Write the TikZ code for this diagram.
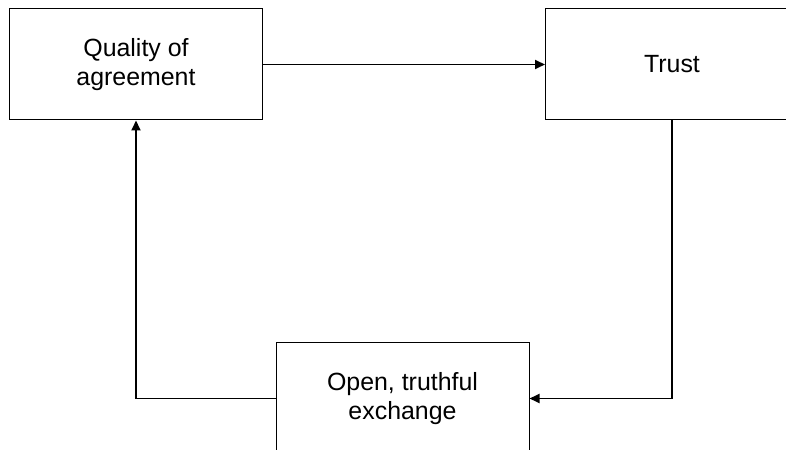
\documentclass[tikz,border=0pt]{standalone}
\usepackage{fontspec}
\setmainfont{Liberation Sans}
\usetikzlibrary{arrows.meta}
\newcommand{\boxfont}{\fontsize{25}{29}\selectfont}

\begin{document}
\begin{tikzpicture}[x=1bp,y=-1bp,
  box/.style={draw,line width=1bp,minimum width=253bp,minimum height=111bp,
    align=center,font=\boxfont},
  flow/.style={line width=1.8bp,-{Triangle[length=10bp,width=9bp]}}]
\clip (0,0) rectangle (786,450);

\node[box] (quality) at (136,64.5) {Quality of\\agreement};
\node[box] (trust) at (672,64.5) {Trust};
\node[box] (open) at (402.5,398.5) {Open, truthful\\exchange};

\draw[flow] (quality) -- (trust);
\draw[flow] (trust.south) |- (open.east);
\draw[flow] (open.west) -| (quality.south);

\end{tikzpicture}
\end{document}
